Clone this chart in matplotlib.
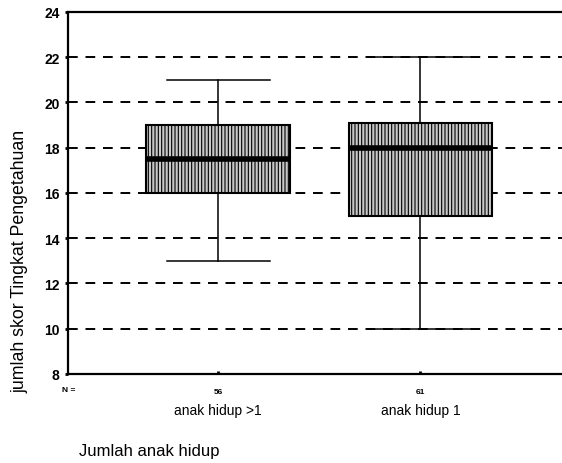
import numpy as np
import matplotlib
matplotlib.use('Agg')
import matplotlib.pyplot as plt

# box statistics read per group
groups = ['anak hidup >1', 'anak hidup 1']
counts = [56, 61]
q1 = [16, 15]
med = [17.5, 18]
q3 = [19, 19.1]
wlo = [13, 10]
whi = [21, 22]
yticks = [8, 10, 12, 14, 16, 18, 20, 22, 24]

plt.rcParams['font.family'] = 'Liberation Sans'
plt.rcParams['hatch.color'] = '#555555'
plt.rcParams['hatch.linewidth'] = 0.8

fig = plt.figure(figsize=(5.62, 4.64), dpi=100)
ax = fig.add_axes([0.121, 0.192, 0.879, 0.78])

stats = []
for i in range(len(groups)):
    stats.append({'label': groups[i], 'med': med[i], 'q1': q1[i], 'q3': q3[i],
                  'whislo': wlo[i], 'whishi': whi[i], 'fliers': []})

# dashed reference lines behind the boxes
for y in yticks[1:-1]:
    ax.axhline(y, color='black', lw=1.4, ls=(0, (5, 4)), zorder=0)

bp = ax.bxp(stats, positions=[1, 2], widths=0.71, patch_artist=True,
            showfliers=False,
            boxprops=dict(facecolor='#c8c8c8', edgecolor='black', lw=1.5, hatch='|||||'),
            medianprops=dict(color='black', lw=4),
            whiskerprops=dict(color='black', lw=1.1),
            capprops=dict(color='black', lw=1.1),
            capwidths=0.51)
for b in bp['boxes']:
    b.set_zorder(2)

ax.set_xlim(0.257, 2.70)
ax.set_ylim(8, 24)
ax.set_yticks(yticks)
ax.tick_params(axis='y', labelsize=10, length=2, width=2, direction='out', pad=4)
ax.set_xticks([1, 2])
ax.set_xticklabels([str(c) for c in counts], fontsize=6, fontweight='bold')
ax.tick_params(axis='x', length=2, width=2, direction='in', pad=10)
for lbl in ax.get_yticklabels():
    lbl.set_fontweight('bold')

ax.spines['right'].set_visible(False)
for s in ['left', 'bottom', 'top']:
    ax.spines[s].set_linewidth(1.6)

fig.text(0.122, 0.159, 'N =', fontsize=6, fontweight='bold', ha='center', va='center')
for i in range(len(groups)):
    x = ax.transData.transform((i + 1, 0))[0] / fig.bbox.width
    fig.text(x, 0.114, groups[i], fontsize=10, ha='center', va='center')

fig.text(0.141, 0.026, 'Jumlah anak hidup', fontsize=12, va='center')
fig.text(0.036, 0.437, 'jumlah skor Tingkat Pengetahuan', fontsize=12.8,
         rotation=90, ha='center', va='center')

fig.savefig('out.png', dpi=100)
